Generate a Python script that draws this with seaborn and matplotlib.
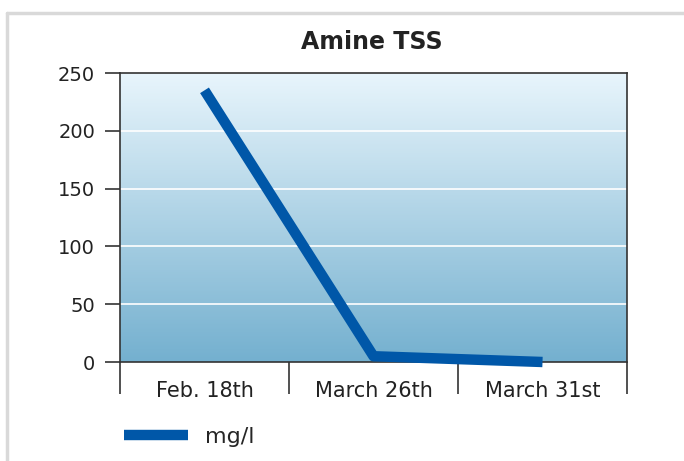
import numpy as np
import pandas as pd
import matplotlib
matplotlib.use("Agg")
import matplotlib.pyplot as plt
from matplotlib.colors import LinearSegmentedColormap
from matplotlib.lines import Line2D
import seaborn as sns

# ---- data ----
categories = ["Feb. 18th", "March 26th", "March 31st"]
values = [235, 5, 0]
series_name = "mg/l"
title = "Amine TSS"
y_ticks = [0, 50, 100, 150, 200, 250]

sns.set_theme(style="white")
plt.rcParams["font.family"] = ["DejaVu Sans"]

df = pd.DataFrame({"date": categories, "value": values})

fig = plt.figure(figsize=(6.84, 4.61), dpi=100)
ax = fig.add_axes([120/684, 1-362/461, (627-120)/684, (362-73)/461])

# gradient background
cmap = LinearSegmentedColormap.from_list("bg", ["#74b0cf", "#e8f5fc"])
grad = np.linspace(0, 1, 256).reshape(-1, 1)
ax.imshow(grad, extent=[-0.5, 2.5, 0, 250], origin="lower", aspect="auto",
          cmap=cmap, zorder=0)

for y in y_ticks[1:-1]:
    ax.axhline(y, color="white", lw=1.2, zorder=1)

sns.lineplot(data=df, x="date", y="value", ax=ax, color="#0057a8",
             linewidth=7.5, solid_capstyle="butt", zorder=3, legend=False,
             clip_on=False)

ax.set_xlim(-0.5, 2.5)
ax.set_ylim(0, 250)
ax.set_yticks(y_ticks)
ax.set_yticklabels([str(v) for v in y_ticks], fontsize=14, color="#222222")
ax.tick_params(axis="y", which="major", length=11, width=1.2, color="#333333",
               pad=7, left=True, direction="out")

ax.set_xticks([-0.5, 0.5, 1.5, 2.5])
ax.set_xticklabels([])
ax.set_xticks([0, 1, 2], minor=True)
ax.set_xticklabels(categories, minor=True, fontsize=15, color="#222222")
ax.tick_params(axis="x", which="major", length=23, width=1.2, color="#333333",
               bottom=True, direction="out")
ax.tick_params(axis="x", which="minor", length=0, pad=14)
ax.set_xlabel("")
ax.set_ylabel("")

for s in ax.spines.values():
    s.set_visible(True)
    s.set_color("#333333")
    s.set_linewidth(1.2)

fig.text(372/684, 1-42/461, title, ha="center", va="center",
         fontsize=17, fontweight="bold", color="#222222")

handle = Line2D([0], [0], color="#0057a8", lw=7.5, solid_capstyle="butt")
fig.legend([handle], [series_name], loc="center left",
           bbox_to_anchor=(104/684, 1-437/461), frameon=False,
           fontsize=16, handlelength=2.9, handletextpad=0.75)

# grey outer frame lines
fig.add_artist(Line2D([7/684, 7/684], [0, 1-13/461], transform=fig.transFigure,
                      color="#d9d9d9", lw=2.5))
fig.add_artist(Line2D([7/684, 1], [1-13/461, 1-13/461], transform=fig.transFigure,
                      color="#d9d9d9", lw=2.5))

fig.savefig("out.png", dpi=100)
